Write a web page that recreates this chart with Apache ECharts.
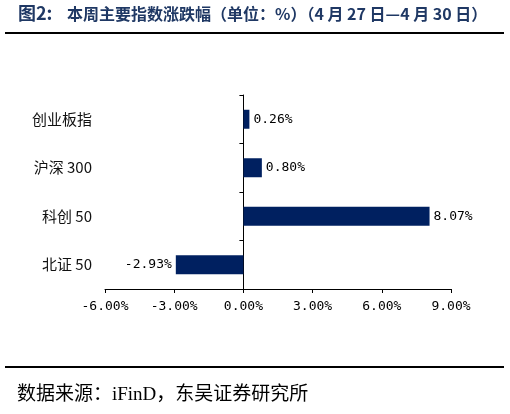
<!DOCTYPE html>
<html>
<head>
<meta charset="utf-8">
<script src="https://cdn.jsdelivr.net/npm/echarts@6/dist/echarts.min.js"></script>
<style>
  html, body { margin: 0; padding: 0; background: #fff; }
  #chart { width: 510px; height: 414px; }
</style>
</head>
<body>
<div id="chart"></div>
<script>
// 本周主要指数涨跌幅（%）
const categories = ['创业板指', '沪深 300', '科创 50', '北证 50']
const changes = [0.26, 0.80, 8.07, -2.93]
const xTicks = { min: -6, max: 9, step: 3 }

const navy = '#002060'
const titleBlue = '#1f3864'
const monoFont = '"DejaVu Sans Mono", monospace'
const cjkFont = '"Noto Sans CJK SC", sans-serif'

const myChart = echarts.init(document.getElementById('chart'))

const option = {
  backgroundColor: '#fff',
  animation: false,
  graphic: [
    {
      type: 'text', left: 18, top: 4,
      style: { text: '图2:', font: 'bold 18px "Noto Sans CJK SC"', fill: titleBlue }
    },
    {
      type: 'text', left: 67, top: 6,
      style: {
        text: '本周主要指数涨跌幅（单位：%）（4 月 27 日—4 月 30 日）',
        font: 'bold 16px "Noto Sans CJK SC"', fill: titleBlue
      }
    },
    { type: 'rect', shape: { x: 5, y: 32, width: 499, height: 2 }, style: { fill: '#000' } },
    { type: 'rect', shape: { x: 5, y: 366, width: 499, height: 2 }, style: { fill: '#000' } },
    {
      type: 'text', left: 17, top: 386,
      style: { text: '数据来源：iFinD，东吴证券研究所', font: '19px "Liberation Serif", "Noto Sans CJK SC"', fill: '#000' }
    }
  ],
  grid: { left: 105, right: 59, top: 95, bottom: 125, containLabel: false },
  xAxis: {
    type: 'value',
    min: xTicks.min,
    max: xTicks.max,
    interval: xTicks.step,
    splitLine: { show: false },
    axisLine: { show: true, lineStyle: { color: '#000', width: 1 } },
    axisTick: { show: true, length: 4, lineStyle: { color: '#000' } },
    axisLabel: {
      color: '#000', fontSize: 13, fontFamily: monoFont, margin: 11,
      formatter: v => v.toFixed(2) + '%'
    }
  },
  yAxis: [
    {
      type: 'category',
      data: categories,
      inverse: true,
      axisLine: { show: true, onZero: true, lineStyle: { color: '#000', width: 1 } },
      axisTick: { show: true, length: 4, lineStyle: { color: '#000' } },
      axisLabel: { show: false }
    },
    {
      type: 'category',
      data: categories,
      inverse: true,
      position: 'left',
      axisLine: { show: false, onZero: false },
      axisTick: { show: false },
      axisLabel: { color: '#111', fontSize: 15, fontFamily: cjkFont, margin: 13 }
    }
  ],
  series: [
    {
      type: 'bar',
      yAxisIndex: 0,
      barWidth: 19,
      data: changes.map(v => ({
        value: v,
        label: { position: v < 0 ? 'left' : 'right' }
      })),
      itemStyle: { color: navy },
      label: {
        show: true,
        distance: 4,
        color: '#000',
        fontSize: 13,
        fontFamily: monoFont,
        formatter: p => p.value.toFixed(2) + '%'
      }
    }
  ]
}

myChart.setOption(option)
</script>
</body>
</html>
